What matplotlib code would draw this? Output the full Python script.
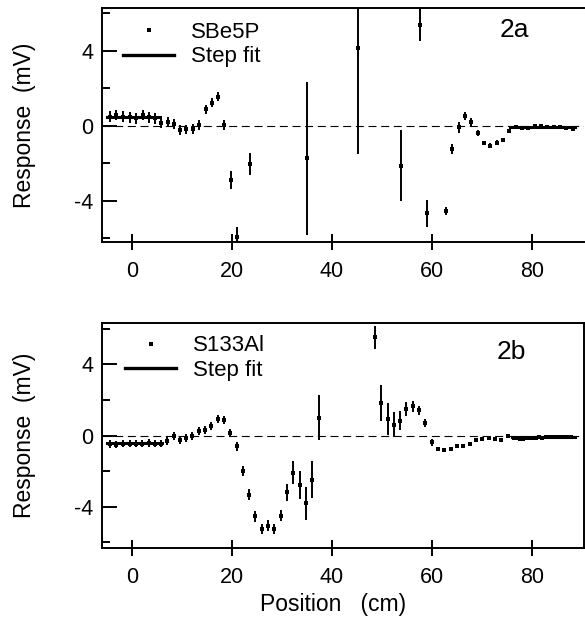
import matplotlib
matplotlib.use("Agg")
import matplotlib.pyplot as plt
from matplotlib.lines import Line2D

plt.rcParams['font.family'] = ['Liberation Sans', 'DejaVu Sans']
plt.rcParams['axes.unicode_minus'] = False

# panel 2a : SBe5P
xa = [-4.4, -3.2, -1.9, -0.5, 0.7, 2.1, 3.3, 4.6, 5.8, 7.1, 8.4, 9.6, 10.8,
      12.1, 13.4, 14.7, 15.9, 17.1, 18.4, 19.7, 20.9, 23.5, 34.9, 45.1, 53.8,
      57.6, 58.9, 62.7, 64.0, 65.3, 66.5, 67.8, 69.1, 70.3, 71.6, 72.9, 74.1,
      75.4, 76.7, 77.9, 79.2, 80.5, 81.7, 83.0, 84.3, 85.5, 86.8, 88.1]
ya = [0.5, 0.59, 0.5, 0.46, 0.41, 0.59, 0.46, 0.41, 0.14, 0.23, 0.1, -0.21,
      -0.18, -0.16, 0.05, 0.89, 1.24, 1.56, 0.05, -2.88, -5.9, -2.03, -1.72,
      4.14, -2.12, 5.39, -4.66, -4.52, -1.23, -0.07, 0.55, 0.2, -0.39, -0.92,
      -1.05, -0.89, -0.75, -0.27, -0.07, -0.1, -0.12, 0.0, 0.0, -0.04, -0.04,
      -0.07, -0.09, -0.16]
ea = [0.28, 0.28, 0.28, 0.28, 0.28, 0.28, 0.28, 0.28, 0.25, 0.25, 0.25, 0.25,
      0.25, 0.25, 0.25, 0.25, 0.25, 0.25, 0.25, 0.5, 0.5, 0.58, 4.08, 5.63,
      1.88, 0.85, 0.71, 0.22, 0.25, 0.28, 0.22, 0.2, 0.15, 0.12, 0.12, 0.12,
      0.12, 0.1, 0.08, 0.08, 0.08, 0.08, 0.08, 0.08, 0.08, 0.08, 0.08, 0.08]

# panel 2b : S133Al
xb = [-4.4, -3.2, -1.9, -0.5, 0.7, 1.9, 3.3, 4.5, 5.7, 6.9, 8.3, 9.5, 10.8,
      12.0, 13.3, 14.5, 15.8, 17.1, 18.3, 19.6, 20.9, 22.1, 23.4, 24.6, 25.9,
      27.1, 28.4, 29.7, 30.9, 32.2, 33.5, 34.7, 36.0, 37.3,
      48.6, 49.8, 51.1, 52.3, 53.5, 54.8, 56.1, 57.3, 58.6, 59.9, 61.1, 62.4,
      63.7, 64.9, 66.2, 67.5, 68.7, 70.0, 71.3, 72.5, 73.8, 75.1,
      76.3, 76.9, 77.6, 78.2, 78.8, 79.5, 80.1, 80.8, 81.4, 82.0, 82.7, 83.3,
      83.9, 84.6, 85.2, 85.9, 86.5, 87.1, 87.8]
yb = [-0.47, -0.5, -0.44, -0.44, -0.44, -0.44, -0.4, -0.44, -0.44, -0.32,
      -0.04, -0.26, -0.13, -0.04, 0.25, 0.3, 0.53, 0.96, 0.86, 0.15, -0.6,
      -2.01, -3.32, -4.54, -5.24, -5.05, -5.24, -4.49, -3.19, -2.07, -2.76,
      -3.79, -2.48, 1.0,
      5.52, 1.84, 0.94, 0.62, 0.85, 1.5, 1.65, 1.43, 0.71, -0.38, -0.75,
      -0.83, -0.75, -0.6, -0.6, -0.45, -0.26, -0.19, -0.13, -0.19, -0.23,
      -0.04,
      -0.12, -0.15, -0.18, -0.16, -0.14, -0.12, -0.15, -0.11, -0.1, -0.12,
      -0.09, -0.08, -0.1, -0.07, -0.06, -0.08, -0.07, -0.09, -0.06]
eb = [0.22] * 20 + [0.25, 0.28, 0.3, 0.3, 0.3, 0.3, 0.3, 0.3, 0.47, 0.62,
                    0.8, 0.92, 1.03, 1.27,
                    0.66, 1.0, 0.9, 0.7, 0.54, 0.4, 0.3, 0.25, 0.2, 0.2,
                    0.1, 0.1, 0.1, 0.1, 0.1, 0.08, 0.08, 0.08, 0.08, 0.08,
                    0.08, 0.08] + [0.06] * 19

# step fit segments (x0, x1, level)
step_a = [(-5.0, 5.5, 0.48), (75.5, 88.5, -0.05)]
step_b = [(-5.0, 6.0, -0.4), (76.0, 88.5, -0.1)]

xticks = [0, 20, 40, 60, 80]
yticks = [-4, 0, 4]
yminor = [-6, -2, 2, 6]

W, H = 585, 622
fig = plt.figure(figsize=(W / 100, H / 100), dpi=100)
ax_a = fig.add_axes([102 / W, (H - 242) / H, 482 / W, 234 / H])
ax_b = fig.add_axes([102 / W, (H - 548) / H, 482 / W, 225 / H])


def draw(ax, x, y, e, steps, ms, name, tag, tagpos, legpos, ylim):
    ax.errorbar(x, y, yerr=e, fmt='s', ms=ms, color='k', ecolor='k',
                elinewidth=1.4, capsize=0, mew=0)
    for x0, x1, lev in steps:
        ax.plot([x0, x1], [lev, lev], color='k', lw=2.2)
    ax.axhline(0, color='k', lw=0.8, ls=(0, (7.2, 4.2)))
    ax.set_xlim(-6, 90.4)
    ax.set_ylim(*ylim)
    ax.set_xticks(xticks)
    ax.set_yticks(yticks)
    ax.set_yticks(yminor, minor=True)
    ax.tick_params(axis='x', direction='inout', length=11, width=1.4,
                   labelsize=15.5, pad=8)
    ax.tick_params(axis='y', which='major', direction='in', length=10.8,
                   width=1.4, labelsize=15.5, pad=6)
    ax.tick_params(axis='y', which='minor', direction='in', length=5.8,
                   width=1.4)
    for s in ax.spines.values():
        s.set_linewidth(1.4)
    ax.set_ylabel('Response  (mV)', fontsize=16.5)
    ax.yaxis.set_label_coords(-0.137, 0.5)
    ax.text(tagpos[0], tagpos[1], tag, transform=ax.transAxes, fontsize=19,
            ha='center', va='center')
    handles = [Line2D([], [], ls='none', marker='s', ms=ms, color='k', mew=0),
               Line2D([], [], color='k', lw=2.4)]
    ax.legend(handles, [name, 'Step fit'], loc='upper left',
              bbox_to_anchor=legpos, frameon=False, fontsize=16,
              handlelength=2.3, handletextpad=0.75, labelspacing=0.15,
              borderpad=0, borderaxespad=0)


draw(ax_a, xa, ya, ea, step_a, 3.0, 'SBe5P', '2a', (0.855, 0.905),
     (0.044, 0.94), (-6.19, 6.29))
draw(ax_b, xb, yb, eb, step_b, 2.4, 'S133Al', '2b', (0.849, 0.871),
     (0.048, 0.945), (-6.31, 6.33))
ax_a.spines['right'].set_visible(False)
ax_b.set_xlabel('Position   (cm)', fontsize=16.5)
ax_b.xaxis.set_label_coords(0.479, -0.2)

fig.savefig('out.png', dpi=100)
